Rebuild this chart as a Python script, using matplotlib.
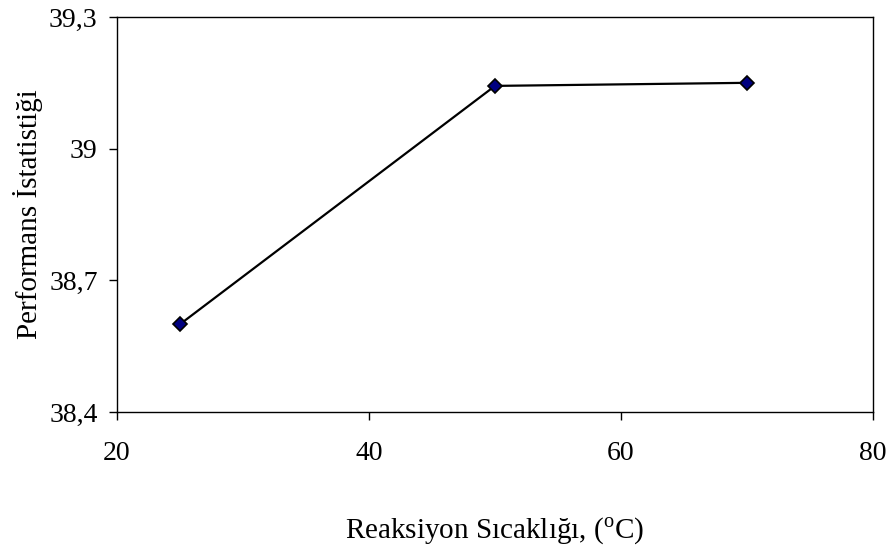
import matplotlib
matplotlib.use('Agg')
import matplotlib.pyplot as plt
from matplotlib.ticker import FuncFormatter

plt.rcParams['font.family'] = ['Liberation Serif', 'DejaVu Serif']
plt.rcParams['mathtext.fontset'] = 'custom'
plt.rcParams['mathtext.rm'] = 'Liberation Serif'

# data
sicaklik = [25, 50, 70]
performans = [38.6, 39.143, 39.150]
x_ticks = [20, 40, 60, 80]
y_ticks = [38.4, 38.7, 39.0, 39.3]

fig = plt.figure(figsize=(8.94, 5.48), dpi=100)
ax = fig.add_axes([0.1309, 0.2482, 0.8456, 0.7208])

ax.plot(sicaklik, performans, color='black', linewidth=1.6, marker='D',
        markersize=7, markerfacecolor='#000080', markeredgecolor='black',
        markeredgewidth=1.2, zorder=3)

ax.set_xlim(20, 80)
ax.set_ylim(38.4, 39.3)
ax.set_xticks(x_ticks)
ax.set_yticks(y_ticks)
ax.yaxis.set_major_formatter(FuncFormatter(lambda v, p: ('%g' % round(v, 1)).replace('.', ',')))

for spine in ax.spines.values():
    spine.set_linewidth(1.0)
ax.tick_params(direction='out', length=6, width=1.0, labelsize=20)
ax.tick_params(axis='y', pad=8)
ax.tick_params(axis='x', pad=15)

ax.set_xlabel('Reaksiyon Sıcaklığı, ($^{\\mathrm{o}}$C)', fontsize=21, labelpad=36)
ax.set_ylabel('Performans İstatistiği', fontsize=21, labelpad=4)

fig.savefig('out.png', dpi=100)
